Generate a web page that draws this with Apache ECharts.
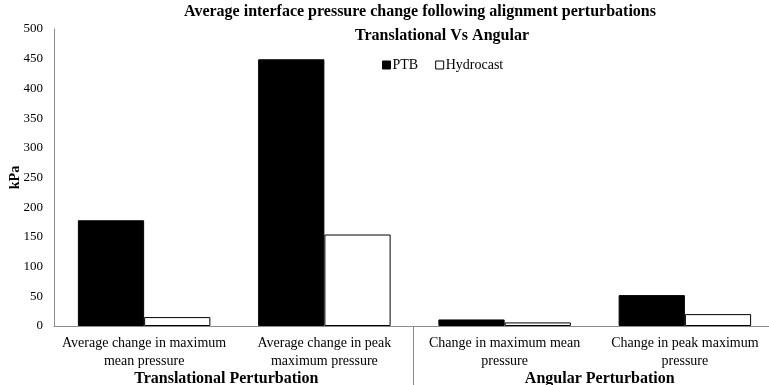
<!DOCTYPE html>
<html><head><meta charset="utf-8">
<script src="https://cdn.jsdelivr.net/npm/echarts@6/dist/echarts.min.js"></script>
<style>html,body{margin:0;padding:0;background:#fff}#c{width:769px;height:385px}</style>
</head><body><div id="c"></div>
<script>
const categories = ["Average change in maximum\nmean pressure", "Average change in peak\nmaximum pressure", "Change in maximum mean\npressure", "Change in peak maximum\npressure"];
const groups = ["Translational Perturbation", "Angular Perturbation"];
const ptb = [178, 449, 11, 52];
const hydrocast = [15, 154, 6, 20];
const yTicks = [0, 500, 50];

const FONT = '"Liberation Serif", "Times New Roman", serif';
const chart = echarts.init(document.getElementById('c'), null, {renderer: 'canvas'});
chart.setOption({
  animation: false,
  textStyle: {fontFamily: FONT, color: '#000'},
  title: [
    {text: 'Average interface pressure change following alignment perturbations', left: 415, top: -1, textAlign: 'center',
     textStyle: {fontFamily: FONT, fontSize: 16, fontWeight: 'bold', color: '#000'}},
    {text: 'Translational Vs Angular', left: 437, top: 23, textAlign: 'center',
     textStyle: {fontFamily: FONT, fontSize: 16, fontWeight: 'bold', color: '#000'}}
  ],
  legend: {
    data: [
      {name: 'PTB', icon: 'rect', itemStyle: {color: '#000', borderColor: '#000', borderWidth: 1}},
      {name: 'Hydrocast', icon: 'rect', itemStyle: {color: '#fff', borderColor: '#000', borderWidth: 1}}
    ],
    left: 377, top: 53, itemWidth: 8, itemHeight: 8, itemGap: 17,
    textStyle: {fontFamily: FONT, fontSize: 14, color: '#000', padding: [0, 0, 0, -3]}
  },
  grid: {left: 54, top: 29, width: 721, bottom: 59, containLabel: false, outerBoundsMode: 'none'},
  xAxis: [
    {type: 'category', data: categories, position: 'bottom',
     axisLine: {show: true, lineStyle: {color: '#8c8c8c', width: 1}},
     axisTick: {show: false},
     axisLabel: {fontFamily: FONT, fontSize: 14, color: '#000', lineHeight: 18, margin: 8, interval: 0}},
    {type: 'category', data: groups, position: 'bottom', offset: 0,
     axisLine: {show: false},
     axisTick: {show: false},
     axisLabel: {fontFamily: FONT, fontSize: 16, fontWeight: 'bold', color: '#000', margin: 45, interval: 0,
       formatter: function (v, i) { return i === 0 ? '{a|' + v + '}' : '{b|' + v + '}'; },
       rich: {a: {fontFamily: FONT, fontSize: 16, fontWeight: 'bold', color: '#000', padding: [0, 16, 0, 0]},
              b: {fontFamily: FONT, fontSize: 16, fontWeight: 'bold', color: '#000', padding: [0, 0, 0, 10]}}}}
  ],
  yAxis: {
    type: 'value', min: yTicks[0], max: yTicks[1], interval: yTicks[2],
    name: 'kPa', nameLocation: 'middle', nameGap: 32, nameRotate: 90, nameMoveOverlap: false,
    nameTextStyle: {fontFamily: FONT, fontSize: 14, fontWeight: 'bold', color: '#000'},
    axisLine: {show: true, lineStyle: {color: '#8c8c8c', width: 1}},
    axisTick: {show: false},
    splitLine: {show: false},
    axisLabel: {fontFamily: FONT, fontSize: 13, color: '#000', margin: 11, padding: [3, 0, 0, 0]}
  },
  series: [
    {name: 'PTB', type: 'bar', data: ptb, xAxisIndex: 0, barGap: '0%', barCategoryGap: '26.5%',
     itemStyle: {color: '#000', borderColor: '#000', borderWidth: 1}},
    {name: 'Hydrocast', type: 'bar', data: hydrocast, xAxisIndex: 0, barGap: '0%', barCategoryGap: '26.5%',
     itemStyle: {color: '#fff', borderColor: '#000', borderWidth: 1}}
  ]
});
// separator between the two category groups, positioned from the axis scale
const p1 = chart.convertToPixel({xAxisIndex: 0, yAxisIndex: 0}, [1, 0]);
const p2 = chart.convertToPixel({xAxisIndex: 0, yAxisIndex: 0}, [2, 0]);
const sx = Math.floor((p1[0] + p2[0]) / 2) - 0.5;
chart.setOption({
  graphic: [{type: 'line', shape: {x1: sx, y1: p1[1], x2: sx, y2: 385}, style: {stroke: '#8c8c8c', lineWidth: 1}, silent: true}]
});
</script></body></html>
